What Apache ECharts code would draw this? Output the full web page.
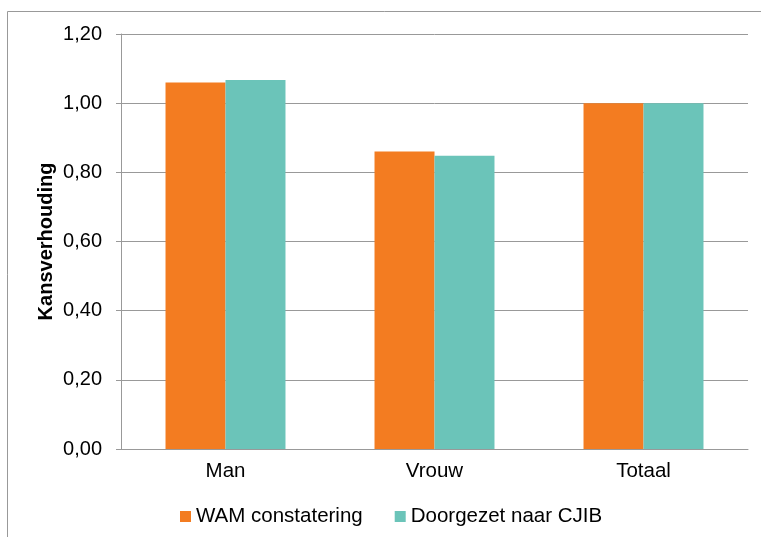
<!DOCTYPE html>
<html>
<head>
<meta charset="utf-8">
<script src="https://cdn.jsdelivr.net/npm/echarts@6/dist/echarts.min.js"></script>
<style>
  html, body { margin: 0; padding: 0; background: #fff; }
  #chart { width: 761px; height: 537px; }
</style>
</head>
<body>
<div id="chart"></div>
<script>
const categories = ['Man', 'Vrouw', 'Totaal']
const wamValues = [1.06, 0.86, 1.00]
const cjibValues = [1.067, 0.848, 1.00]
const seriesNames = ['WAM constatering', 'Doorgezet naar CJIB']
const yTicks = { min: 0, max: 1.2, interval: 0.2 }

const font = '"Liberation Sans", Arial, sans-serif'

const option = {
  animation: false,
  color: ['#f37c21', '#6bc4b9'],
  textStyle: { fontFamily: font, color: '#000' },
  graphic: [
    {
      type: 'rect',
      shape: { x: 7.5, y: 11.5, width: 770, height: 540 },
      style: { fill: 'none', stroke: '#999', lineWidth: 1 },
      silent: true
    }
  ],
  grid: {
    left: 121,
    right: 13,
    top: 34,
    bottom: 88
  },
  legend: {
    left: 175,
    top: 501,
    itemWidth: 11,
    itemHeight: 11,
    itemGap: 32,
    icon: 'rect',
    textStyle: { fontSize: 20.5, color: '#000', fontFamily: font },
    data: seriesNames
  },
  xAxis: {
    type: 'category',
    data: categories,
    axisLine: { lineStyle: { color: '#999', width: 1 } },
    axisTick: { length: 5, lineStyle: { color: '#999' } },
    axisLabel: { fontSize: 20.5, color: '#000', margin: 12, fontFamily: font }
  },
  yAxis: {
    type: 'value',
    min: yTicks.min,
    max: yTicks.max,
    interval: yTicks.interval,
    name: 'Kansverhouding',
    nameLocation: 'middle',
    nameGap: 65,
    nameMoveOverlap: false,
    nameTextStyle: { fontSize: 20, fontWeight: 'bold', color: '#000', fontFamily: font },
    axisLine: { show: true, lineStyle: { color: '#999', width: 1 } },
    axisTick: { show: true, length: 5, lineStyle: { color: '#999' } },
    axisLabel: {
      fontSize: 20,
      color: '#000',
      margin: 19,
      fontFamily: font,
      formatter: v => v.toFixed(2).replace('.', ',')
    },
    splitLine: { lineStyle: { color: '#999', width: 1 } }
  },
  series: [
    {
      name: seriesNames[0],
      type: 'bar',
      data: wamValues,
      barGap: '0%',
      barCategoryGap: '42.6%'
    },
    {
      name: seriesNames[1],
      type: 'bar',
      data: cjibValues,
      barGap: '0%',
      barCategoryGap: '42.6%'
    }
  ]
}

const chart = echarts.init(document.getElementById('chart'))
chart.setOption(option)
window.addEventListener('resize', () => chart.resize())
</script>
</body>
</html>
